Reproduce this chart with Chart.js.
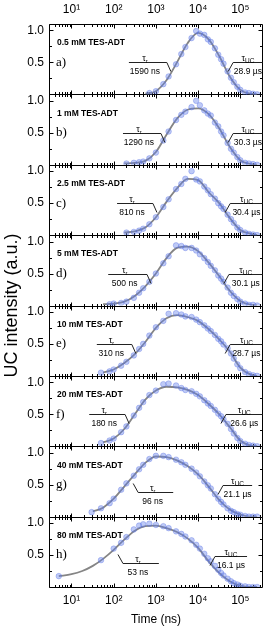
<!DOCTYPE html>
<html>
<head>
<meta charset="utf-8">
<script src="https://cdn.jsdelivr.net/npm/chart.js@4.4.1/dist/chart.umd.min.js"></script>
<style>
  html, body { margin: 0; padding: 0; background: #fff; }
  #wrap { width: 268px; height: 630px; }
</style>
</head>
<body>
<div id="wrap"><canvas id="chart" width="268" height="630"></canvas></div>
<script>
// time axis (ns)
const X_MIN = 2.93;
const X_MAX = 345000;
const decades = [10, 100, 1000, 10000, 100000];
const decadeLabels = ['10¹', '10²', '10³', '10⁴', '10⁵'];

// panel texts
const concLabels = ['0.5 mM TES-ADT', '1 mM TES-ADT', '2.5 mM TES-ADT', '5 mM TES-ADT',
  '10 mM TES-ADT', '20 mM TES-ADT', '40 mM TES-ADT', '80 mM TES-ADT'];
const letters = ['a)', 'b)', 'c)', 'd)', 'e)', 'f)', 'g)', 'h)'];
const riseTimes = ['1590 ns', '1290 ns', '810 ns', '500 ns', '310 ns', '180 ns', '96 ns', '53 ns'];
const ucTimes = ['28.9 µs', '30.3 µs', '30.4 µs', '30.1 µs', '28.7 µs', '26.6 µs', '21.1 µs', '16.1 µs'];

// fit curves, sampled at fitT
const fitT = [5, 10, 18, 32, 56, 100, 178, 316, 562, 1000, 1780, 3160, 5620, 10000, 17800, 31600, 56200, 100000, 178000, 250000];
const fitA = [null, null, null, null, null, null, null, null, 0.01, 0.05, 0.22, 0.5, 0.8, 0.96, 0.86, 0.6, 0.28, 0.07, 0.01, 0];
const fitB = [null, null, null, null, null, null, 0.02, 0.03, 0.06, 0.2, 0.47, 0.72, 0.86, 0.88, 0.79, 0.57, 0.28, 0.07, 0.01, 0];
const fitC = [null, null, null, null, null, null, 0.04, 0.06, 0.12, 0.28, 0.52, 0.73, 0.88, 0.86, 0.67, 0.5, 0.27, 0.08, 0.02, 0];
const fitD = [null, null, null, null, 0.02, 0.03, 0.06, 0.15, 0.3, 0.5, 0.74, 0.9, 0.92, 0.85, 0.67, 0.46, 0.23, 0.07, 0.01, 0];
const fitE = [null, null, null, null, 0.05, 0.1, 0.2, 0.34, 0.53, 0.75, 0.9, 0.95, 0.92, 0.86, 0.73, 0.57, 0.38, 0.13, 0.02, 0];
const fitF = [null, null, null, null, 0.06, 0.12, 0.27, 0.5, 0.73, 0.87, 0.93, 0.92, 0.88, 0.8, 0.66, 0.5, 0.3, 0.09, 0.01, 0];
const fitG = [null, null, null, 0.08, 0.14, 0.28, 0.47, 0.66, 0.84, 0.94, 0.93, 0.88, 0.79, 0.66, 0.47, 0.26, 0.11, 0.03, 0, 0];
const fitH = [0.17, 0.2, 0.25, 0.33, 0.44, 0.58, 0.74, 0.88, 0.95, 0.96, 0.92, 0.86, 0.76, 0.61, 0.4, 0.22, 0.09, 0.02, 0, 0];

// measured points, sampled at dataT
const dataT = [5, 30, 50, 80, 100, 150, 200, 300, 400, 500, 700, 1000, 1500, 2000, 3000, 4000, 5000, 7000, 9000,
  11000, 14000, 17000, 20000, 25000, 30000, 35000, 40000, 50000, 60000, 70000, 85000, 100000, 130000, 160000, 200000, 250000];
const ptsA = [null, null, null, null, null, null, null, null, null, null, 0.02, 0.05, 0.16, 0.28, 0.47, 0.63, 0.74, 0.88, 0.99,
  0.95, 0.93, 0.86, 0.82, 0.72, 0.62, 0.55, 0.48, 0.36, 0.26, 0.19, 0.12, 0.07, 0.03, 0.02, 0.01, 0];
const ptsB = [null, null, null, null, null, null, 0.02, 0.03, 0.04, 0.05, 0.1, 0.19, 0.38, 0.52, 0.7, 0.78, 0.83, 0.9, 1.0,
  0.93, 0.85, 0.8, 0.77, 0.66, 0.6, 0.52, 0.46, 0.34, 0.25, 0.19, 0.12, 0.07, 0.03, 0.02, 0.01, 0];
const ptsC = [null, null, null, null, null, null, 0.04, 0.05, 0.07, 0.1, 0.17, 0.28, 0.44, 0.56, 0.72, 0.8, 0.88, 1.0, 0.87,
  0.84, 0.76, 0.7, 0.64, 0.57, 0.5, 0.45, 0.41, 0.32, 0.25, 0.19, 0.12, 0.08, 0.04, 0.02, 0.01, 0];
const ptsD = [null, null, null, 0.02, 0.03, 0.04, 0.06, 0.12, 0.2, 0.27, 0.37, 0.5, 0.66, 0.77, 0.94, 0.93, 0.9, 0.9, 0.86,
  0.8, 0.74, 0.68, 0.62, 0.55, 0.47, 0.42, 0.37, 0.28, 0.2, 0.15, 0.1, 0.06, 0.03, 0.01, 0.01, 0];
const ptsE = [null, null, 0.05, 0.07, 0.1, 0.16, 0.22, 0.32, 0.42, 0.5, 0.63, 0.76, 0.86, 0.97, 0.98, 0.96, 0.93, 0.92, 0.88,
  0.84, 0.79, 0.74, 0.7, 0.64, 0.58, 0.54, 0.49, 0.43, 0.35, 0.27, 0.18, 0.12, 0.06, 0.03, 0.01, 0];
const ptsF = [null, null, 0.05, 0.09, 0.12, 0.22, 0.31, 0.48, 0.6, 0.69, 0.8, 0.87, 0.97, 0.98, 0.95, 0.91, 0.88, 0.86, 0.82,
  0.78, 0.72, 0.67, 0.63, 0.57, 0.51, 0.47, 0.42, 0.35, 0.27, 0.2, 0.13, 0.08, 0.04, 0.02, 0.01, 0];
const ptsG = [null, 0.07, 0.13, 0.21, 0.28, 0.42, 0.52, 0.64, 0.74, 0.81, 0.9, 0.95, 0.95, 0.93, 0.89, 0.85, 0.81, 0.75, 0.69,
  0.63, 0.55, 0.49, 0.44, 0.35, 0.28, 0.23, 0.19, 0.13, 0.09, 0.07, 0.04, 0.03, 0.01, 0, 0, 0];
const ptsH = [0.17, null, 0.42, null, 0.6, 0.69, 0.78, 0.9, 0.96, 0.98, 0.99, 0.97, 0.95, 0.92, 0.87, 0.83, 0.79, 0.73, 0.66,
  0.6, 0.52, 0.45, 0.4, 0.33, 0.27, 0.22, 0.18, 0.13, 0.09, 0.06, 0.04, 0.02, 0.01, 0, 0, 0];

const fits = [fitA, fitB, fitC, fitD, fitE, fitF, fitG, fitH];
const points = [ptsA, ptsB, ptsC, ptsD, ptsE, ptsF, ptsG, ptsH];

// where the tau brackets sit: [log10 t start, log10 t end, y value, shape]
const riseMarks = [[2.36, 3.26, 0.5, 'drop'], [2.22, 3.12, 0.49, 'drop'], [2.08, 2.93, 0.5, 'drop'], [1.87, 2.79, 0.5, 'drop'],
  [1.6, 2.43, 0.5, 'drop'], [1.42, 2.27, 0.5, 'drop'], [2.58, 3.41, 0.38, 'rise'], [2.22, 3.07, 0.37, 'rise']];
const ucMarks = [[4.83, 5.53, 0.5], [4.83, 5.53, 0.49], [4.76, 5.53, 0.5], [4.73, 5.53, 0.5],
  [4.76, 5.53, 0.5], [4.66, 5.53, 0.5], [4.59, 5.28, 0.5], [4.4, 5.16, 0.48]];

const SANS = '"Liberation Sans", Arial, sans-serif';
const SERIF = '"Liberation Serif", "Times New Roman", serif';

function toXY(ts, vs) {
  return ts.map((t, i) => ({ x: t, y: vs[i] })).filter(p => p.y !== null);
}

const datasets = [];
fits.forEach((f, i) => {
  datasets.push({
    type: 'scatter',
    data: toXY(dataT, points[i]),
    yAxisID: 'y' + i,
    backgroundColor: 'rgba(100, 128, 235, 0.42)',
    borderColor: 'rgba(80, 105, 225, 0.55)',
    borderWidth: 0.6,
    pointRadius: 2.8,
    order: 0
  });
  datasets.push({
    type: 'line',
    data: toXY(fitT, f),
    yAxisID: 'y' + i,
    borderColor: '#858585',
    borderWidth: 1.8,
    pointRadius: 0,
    cubicInterpolationMode: 'monotone',
    order: 1
  });
});

const scales = {
  x: {
    type: 'logarithmic', position: 'bottom', min: X_MIN, max: X_MAX,
    grid: { display: false, drawTicks: false }, border: { display: false },
    afterBuildTicks: s => { s.ticks = decades.map(v => ({ value: v })); },
    afterFit: s => { s.height = 43; },
    ticks: { autoSkip: false, maxRotation: 0, padding: 6, color: '#000',
      font: { family: SANS, size: 12 }, callback: (v, i) => decadeLabels[i] },
    title: { display: true, text: 'Time (ns)', color: '#000', font: { family: SANS, size: 12 },
      padding: { top: 0, bottom: 3 } }
  },
  xTop: {
    type: 'logarithmic', position: 'top', min: X_MIN, max: X_MAX,
    grid: { display: false, drawTicks: false }, border: { display: false },
    afterBuildTicks: s => { s.ticks = decades.map(v => ({ value: v })); },
    afterFit: s => { s.height = 24; },
    ticks: { autoSkip: false, maxRotation: 0, padding: 7, color: '#000',
      font: { family: SANS, size: 12 }, callback: (v, i) => decadeLabels[i] }
  }
};
// stacked axes are laid out last-added on top, so add panel h first
for (let i = 7; i >= 0; i--) {
  scales['y' + i] = {
    type: 'linear', position: 'left', stack: 'panels', stackWeight: 1,
    min: 0, max: 1.1,
    grid: { display: false, drawTicks: false }, border: { display: false },
    afterFit: s => { s.width = 49; },
    ticks: { stepSize: 0.5, includeBounds: false, autoSkip: false, padding: 5, color: '#000',
      font: { family: SANS, size: 12 },
      callback: v => (Math.abs(v - 0.5) < 1e-6 || Math.abs(v - 1) < 1e-6) ? v.toFixed(1) : '' }
  };
}

function tau(ctx, cx, baseY, sub, big, small) {
  ctx.font = big + 'px ' + SANS;
  const w1 = ctx.measureText('τ').width;
  ctx.font = small + 'px ' + SANS;
  const w2 = ctx.measureText(sub).width;
  const x0 = cx - (w1 + w2) / 2;
  ctx.textAlign = 'left';
  ctx.textBaseline = 'alphabetic';
  ctx.font = big + 'px ' + SANS;
  ctx.fillText('τ', x0, baseY);
  ctx.font = small + 'px ' + SANS;
  ctx.fillText(sub, x0 + w1, baseY + 2);
}

const frames = {
  id: 'frames',
  beforeDatasetsDraw(chart) {
    const { ctx, scales: sc, chartArea } = chart;
    const L = Math.round(chartArea.left) + 0.5;
    const R = Math.round(chartArea.right) - 0.5;
    const xs = [];
    for (let d = 0; d <= 5; d++) {
      for (let k = 1; k <= 9; k++) {
        const v = k * Math.pow(10, d);
        if (v > X_MIN && v < X_MAX) xs.push([v, k === 1]);
      }
    }
    ctx.save();
    ctx.strokeStyle = '#000';
    ctx.lineWidth = 1;
    for (let i = 0; i < 8; i++) {
      const y = sc['y' + i];
      const T = Math.round(y.top) + 0.5;
      const B = Math.round(y.bottom) + 0.5;
      ctx.beginPath();
      ctx.moveTo(L, T); ctx.lineTo(R, T); ctx.lineTo(R, B); ctx.lineTo(L, B); ctx.closePath();
      xs.forEach(([v, major]) => {
        const px = Math.round(sc.x.getPixelForValue(v)) + 0.5;
        const len = major ? 4 : 2.5;
        ctx.moveTo(px, T); ctx.lineTo(px, T + len);
        ctx.moveTo(px, B); ctx.lineTo(px, B - len);
      });
      [0.25, 0.5, 0.75, 1.0].forEach(v => {
        const py = Math.round(y.getPixelForValue(v)) + 0.5;
        const len = (v === 0.5 || v === 1.0) ? 4 : 2.5;
        ctx.moveTo(L, py); ctx.lineTo(L + len, py);
        ctx.moveTo(R, py); ctx.lineTo(R - len, py);
      });
      ctx.stroke();
    }
    ctx.restore();
  },
  afterDatasetsDraw(chart) {
    const { ctx, scales: sc, chartArea } = chart;
    const L = chartArea.left;
    ctx.save();
    ctx.fillStyle = '#000';
    ctx.strokeStyle = '#222';
    ctx.lineWidth = 1;
    for (let i = 0; i < 8; i++) {
      const y = sc['y' + i];
      // concentration and panel letter
      ctx.textAlign = 'left';
      ctx.textBaseline = 'middle';
      ctx.font = 'bold 8.5px ' + SANS;
      ctx.fillText(concLabels[i], L + 8, y.top + 19);
      ctx.font = '13px ' + SERIF;
      ctx.fillText(letters[i], L + 7, y.getPixelForValue(0.5));

      // rise time bracket
      const [r1, r2, rv, shape] = riseMarks[i];
      const x1 = sc.x.getPixelForValue(Math.pow(10, r1));
      const x2 = sc.x.getPixelForValue(Math.pow(10, r2));
      const ry = Math.round(y.getPixelForValue(rv)) + 0.5;
      ctx.beginPath();
      if (shape === 'drop') {
        ctx.moveTo(x1, ry); ctx.lineTo(x2, ry); ctx.lineTo(x2 + 4, ry + 9);
      } else {
        ctx.moveTo(x1 - 5, ry - 9); ctx.lineTo(x1, ry); ctx.lineTo(x2, ry);
      }
      ctx.stroke();
      const rc = (x1 + x2) / 2 - 3;
      tau(ctx, rc, ry - 2, 'r', 9, 5.5);
      ctx.textAlign = 'center';
      ctx.textBaseline = 'middle';
      ctx.font = '8.5px ' + SANS;
      ctx.fillText(riseTimes[i], rc, ry + 9);

      // upconversion lifetime bracket
      const [u1, u2, uv] = ucMarks[i];
      const ux1 = sc.x.getPixelForValue(Math.pow(10, u1));
      const ux2 = sc.x.getPixelForValue(Math.pow(10, u2));
      const uy = Math.round(y.getPixelForValue(uv)) + 0.5;
      ctx.beginPath();
      ctx.moveTo(ux1 - 5, uy + 9); ctx.lineTo(ux1, uy); ctx.lineTo(ux2, uy);
      ctx.stroke();
      const uc = (ux1 + ux2) / 2;
      tau(ctx, uc, uy - 2, 'UC', 9, 6.5);
      ctx.textAlign = 'center';
      ctx.textBaseline = 'middle';
      ctx.font = '8.5px ' + SANS;
      ctx.fillText(ucTimes[i], uc, uy + 9);
    }
    // shared y title
    const midY = (sc.y0.top + sc.y7.bottom) / 2;
    ctx.translate(12, midY);
    ctx.rotate(-Math.PI / 2);
    ctx.textAlign = 'center';
    ctx.textBaseline = 'middle';
    ctx.font = '18px ' + SANS;
    ctx.fillText('UC intensity (a.u.)', 0, 0);
    ctx.restore();
  }
};

new Chart(document.getElementById('chart').getContext('2d'), {
  data: { datasets },
  options: {
    responsive: false,
    animation: false,
    events: [],
    layout: { padding: { left: 0, right: 5, top: 0, bottom: 0 } },
    plugins: { legend: { display: false }, tooltip: { enabled: false } },
    scales
  },
  plugins: [frames]
});
</script>
</body>
</html>
